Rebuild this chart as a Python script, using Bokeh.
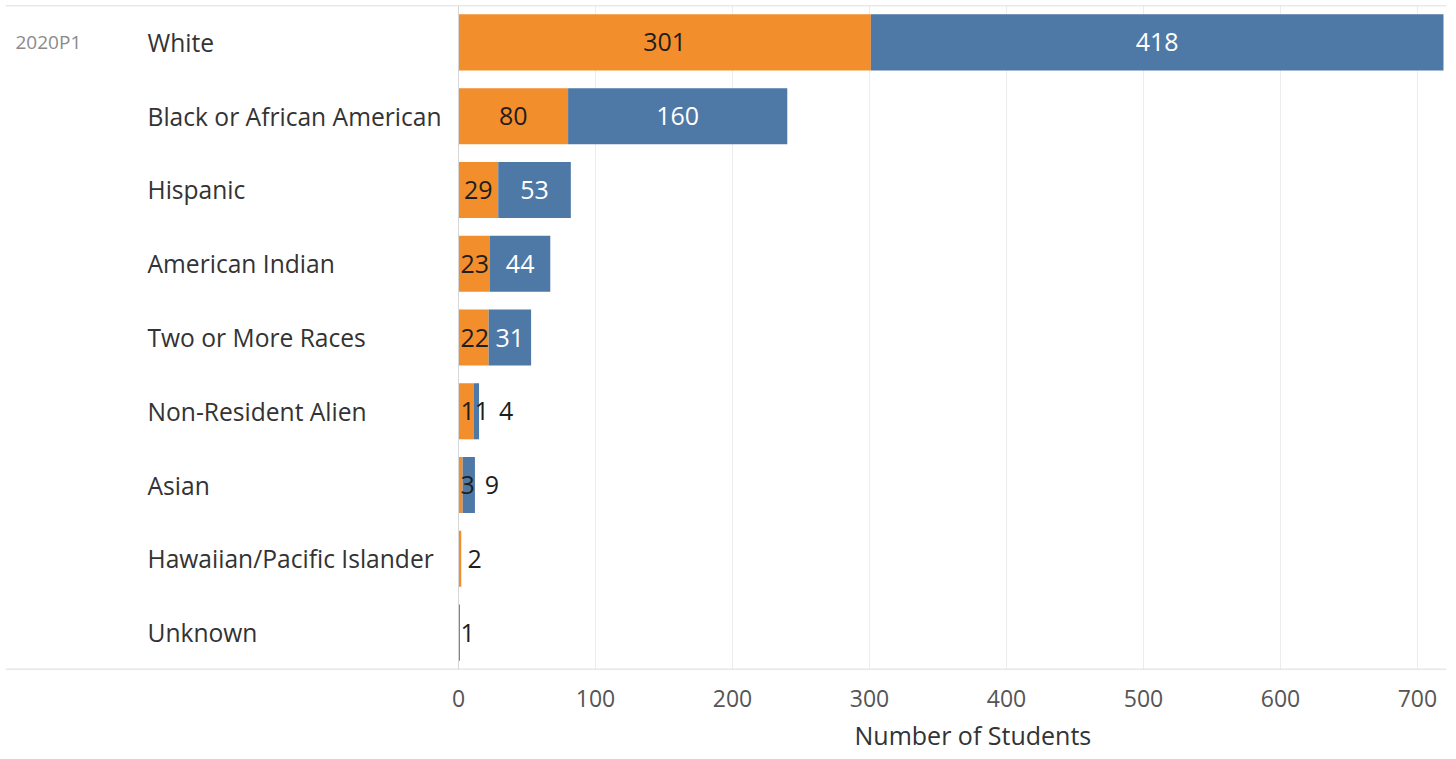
from bokeh.plotting import figure
from bokeh.models import ColumnDataSource, Range1d, FixedTicker, Span, Title
from bokeh.core.properties import value
from bokeh.embed import file_html
from bokeh.resources import INLINE

# ---- data ----
categories = ["White", "Black or African American", "Hispanic", "American Indian",
              "Two or More Races", "Non-Resident Alien", "Asian",
              "Hawaiian/Pacific Islander", "Unknown"]
orange_vals = [301, 80, 29, 23, 22, 11, 3, 2, 0]
blue_vals = [418, 160, 53, 44, 31, 4, 9, 0, 1]
x_ticks = [0, 100, 200, 300, 400, 500, 600, 700]
period_label = "2020P1"
x_title = "Number of Students"

ORANGE = "#F28E2B"
BLUE = "#4E79A7"
FONT = "Open Sans"

W, H = 1450, 759
BL, BR, BT, BB = 5, 4, 5, 90
ZERO_PX = 458            # screen x of value 0
X_END = 721.2
frame_w = W - BL - BR
scale = (BL + frame_w - ZERO_PX) / X_END          # px per unit
X_START = -(ZERO_PX - BL) / scale

p = figure(width=W, height=H, output_backend="svg", toolbar_location=None,
           x_range=Range1d(X_START, X_END), y_range=Range1d(8.5, -0.5),
           min_border_left=BL, min_border_right=BR, min_border_top=BT,
           min_border_bottom=BB)
p.outline_line_color = None
p.background_fill_color = "white"
p.border_fill_color = "white"
p.yaxis.visible = False
p.ygrid.grid_line_color = None
p.xgrid.ticker = FixedTicker(ticks=x_ticks[1:])
p.xgrid.grid_line_color = "#ececec"
p.xgrid.grid_line_width = 1

ax = p.xaxis[0]
ax.ticker = FixedTicker(ticks=x_ticks)
ax.axis_line_color = None
ax.major_tick_line_color = None
ax.minor_tick_line_color = None
ax.major_label_text_font = FONT
ax.major_label_text_font_size = "23px"
ax.major_label_text_color = "#555555"
ax.major_label_standoff = 14

title = Title(text=x_title, align="left", offset=ZERO_PX + 396 - BL,
              text_font=FONT, text_font_size="25px", text_font_style="normal",
              text_color="#333333", standoff=13)
p.add_layout(title, "below")

# border lines
p.add_layout(Span(location=-0.5, dimension="width", line_color="#d4d4d4", line_width=1.5))
p.add_layout(Span(location=8.5, dimension="width", line_color="#cfcfcf", line_width=1.5))
p.add_layout(Span(location=0, dimension="height", line_color="#d6d6d6", line_width=1))

ys = list(range(len(categories)))
totals = [o + b for o, b in zip(orange_vals, blue_vals)]
src = ColumnDataSource(dict(y=ys, cat=categories, o=orange_vals, b=blue_vals, t=totals,
                            zero=[0] * len(ys)))
p.hbar(y="y", left="zero", right="o", height=0.76, source=src, fill_color=ORANGE, line_color=None)
p.hbar(y="y", left="o", right="t", height=0.76, source=src, fill_color=BLUE, line_color=None)

# category labels (left-aligned in the header area)
p.text(x="zero", y="y", text="cat", source=src, x_offset=147 - ZERO_PX, text_align="left",
       text_baseline="middle", text_font=value(FONT), text_font_size="24.6px", text_color="#333333")
p.text(x=[0], y=[0], text=[period_label], x_offset=15 - ZERO_PX, text_align="left",
       text_baseline="middle", text_font=value(FONT), text_font_size="19px", text_color="#8a8a8a")

# value labels
char_w = 14.3
lx, ly, lt, loff, lcol, lalign = [], [], [], [], [], []
for i, (o, b) in enumerate(zip(orange_vals, blue_vals)):
    cursor = 0.0
    if o > 0:
        tw = len(str(o)) * char_w
        if tw + 4 <= o * scale:
            lx.append(o / 2); loff.append(0); lalign.append("center")
        else:
            lx.append(0); loff.append(2 if b > 0 else 9); lalign.append("left")
            cursor = loff[-1] + tw
        ly.append(i); lt.append(str(o)); lcol.append("#1e1e1e")
    if b > 0:
        tw = len(str(b)) * char_w
        if tw + 4 <= b * scale:
            lx.append(o + b / 2); loff.append(0); lalign.append("center"); lcol.append("white")
        else:
            if o == 0:
                lx.append(0); loff.append(2)
            else:
                end_px = (o + b) * scale
                lx.append(0); loff.append(max(end_px + 8, cursor + 10))
            lalign.append("left"); lcol.append("#1e1e1e")
        ly.append(i); lt.append(str(b))
lsrc = ColumnDataSource(dict(x=lx, y=ly, t=lt, off=loff, col=lcol, al=lalign))
p.text(x="x", y="y", text="t", x_offset="off", text_align="al", text_color="col",
       source=lsrc, text_baseline="middle", text_font=value(FONT), text_font_size="25px")

open("out.html", "w").write(file_html(p, INLINE))
